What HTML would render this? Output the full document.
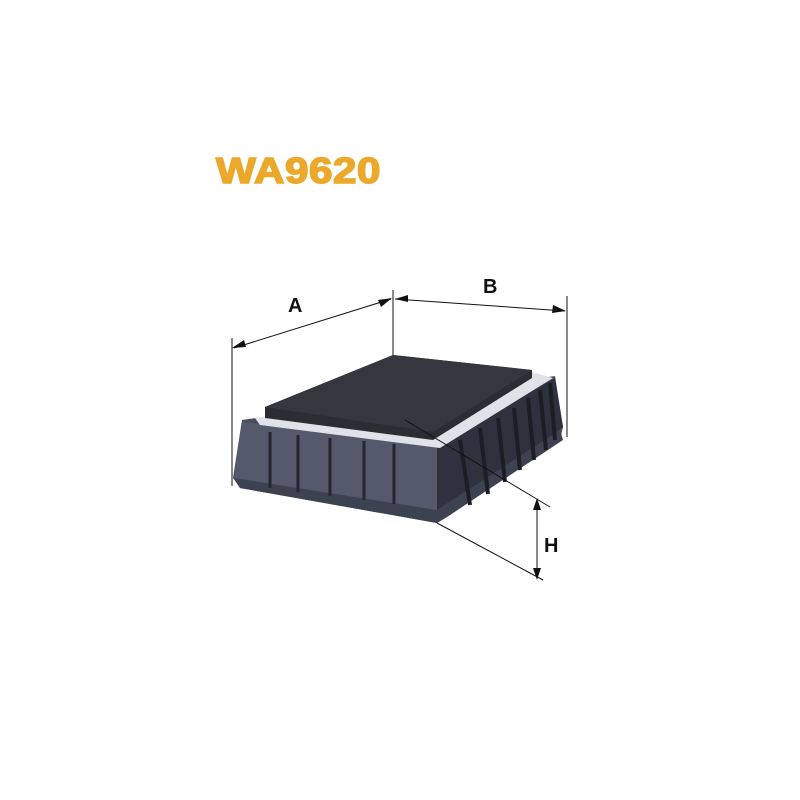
<!DOCTYPE html>
<html><head><style>
html,body{margin:0;padding:0;background:#fff;width:800px;height:800px;overflow:hidden}
</style></head><body>
<svg width="800" height="800" viewBox="0 0 800 800" xmlns="http://www.w3.org/2000/svg">
<text x="0" y="0" transform="translate(216,183) scale(1.17,1)" font-family="Liberation Sans, sans-serif" font-weight="bold" font-size="36" letter-spacing="0.5" fill="#eca82a" stroke="#eca82a" stroke-width="1.6">WA9620</text>
<!-- frame -->
<polygon points="242,420 555,376 563,427 560,440 450,515 437,523 240,488 233,478" fill="#4a4f60"/>
<polygon points="437,445 555,378 563,427 450,515 437,523" fill="#2e323e"/>
<polygon points="242,422 437,445 437,523 240,488 234,478" fill="#545a6c"/>
<polygon points="234,478 437,510 560,430 563,440 450,515 437,523 240,488" fill="#3d4250"/>
<polygon points="255,418 532,372 553,378 440,448 260,425" fill="#dfe2e8"/>
<g stroke="#24272f" stroke-width="3">
<line x1="270" y1="432" x2="270" y2="488"/><line x1="298" y1="435" x2="298" y2="492"/>
<line x1="330" y1="438" x2="330" y2="496"/><line x1="364" y1="441" x2="364" y2="500"/>
<line x1="394" y1="444" x2="394" y2="504"/>
</g>
<g stroke="#1c1e25" stroke-width="4">
<line x1="460" y1="440" x2="470" y2="505"/><line x1="480" y1="428" x2="488" y2="494"/>
<line x1="498" y1="418" x2="505" y2="482"/><line x1="514" y1="408" x2="520" y2="470"/>
<line x1="528" y1="398" x2="534" y2="460"/><line x1="540" y1="390" x2="546" y2="450"/>
<line x1="550" y1="383" x2="555" y2="440"/>
</g>
<polygon points="265,407 393,355 532,370 532,378 433,440 265,418" fill="#2b2d33"/>
<polygon points="265,407 393,355 532,370 433,432" fill="#35373e"/>
<g stroke="#111" stroke-width="1" fill="none">
<line x1="232" y1="338" x2="232" y2="486"/>
<line x1="393" y1="290" x2="393" y2="355"/>
<line x1="567" y1="296" x2="567" y2="437"/>
<line x1="234" y1="348" x2="391" y2="299"/>
<line x1="395" y1="299" x2="565" y2="311"/>
<line x1="537" y1="500" x2="537" y2="578"/>
<line x1="405" y1="420" x2="550" y2="507"/>
<line x1="437" y1="523" x2="543" y2="580"/>
</g>
<g fill="#111">
<polygon points="232,348 244,340 246,347"/>
<polygon points="392,298 378,300 381,307"/>
<polygon points="395,299 408,295 408,302"/>
<polygon points="566,311 553,305 552,313"/>
<polygon points="537,498 533,510 541,510"/>
<polygon points="537,580 533,568 541,568"/>
</g>
<g font-family="Liberation Sans, sans-serif" font-weight="bold" font-size="20" fill="#111">
<text x="288" y="312">A</text>
<text x="483" y="293">B</text>
<text x="544" y="552">H</text>
</g>
</svg>
</body></html>
